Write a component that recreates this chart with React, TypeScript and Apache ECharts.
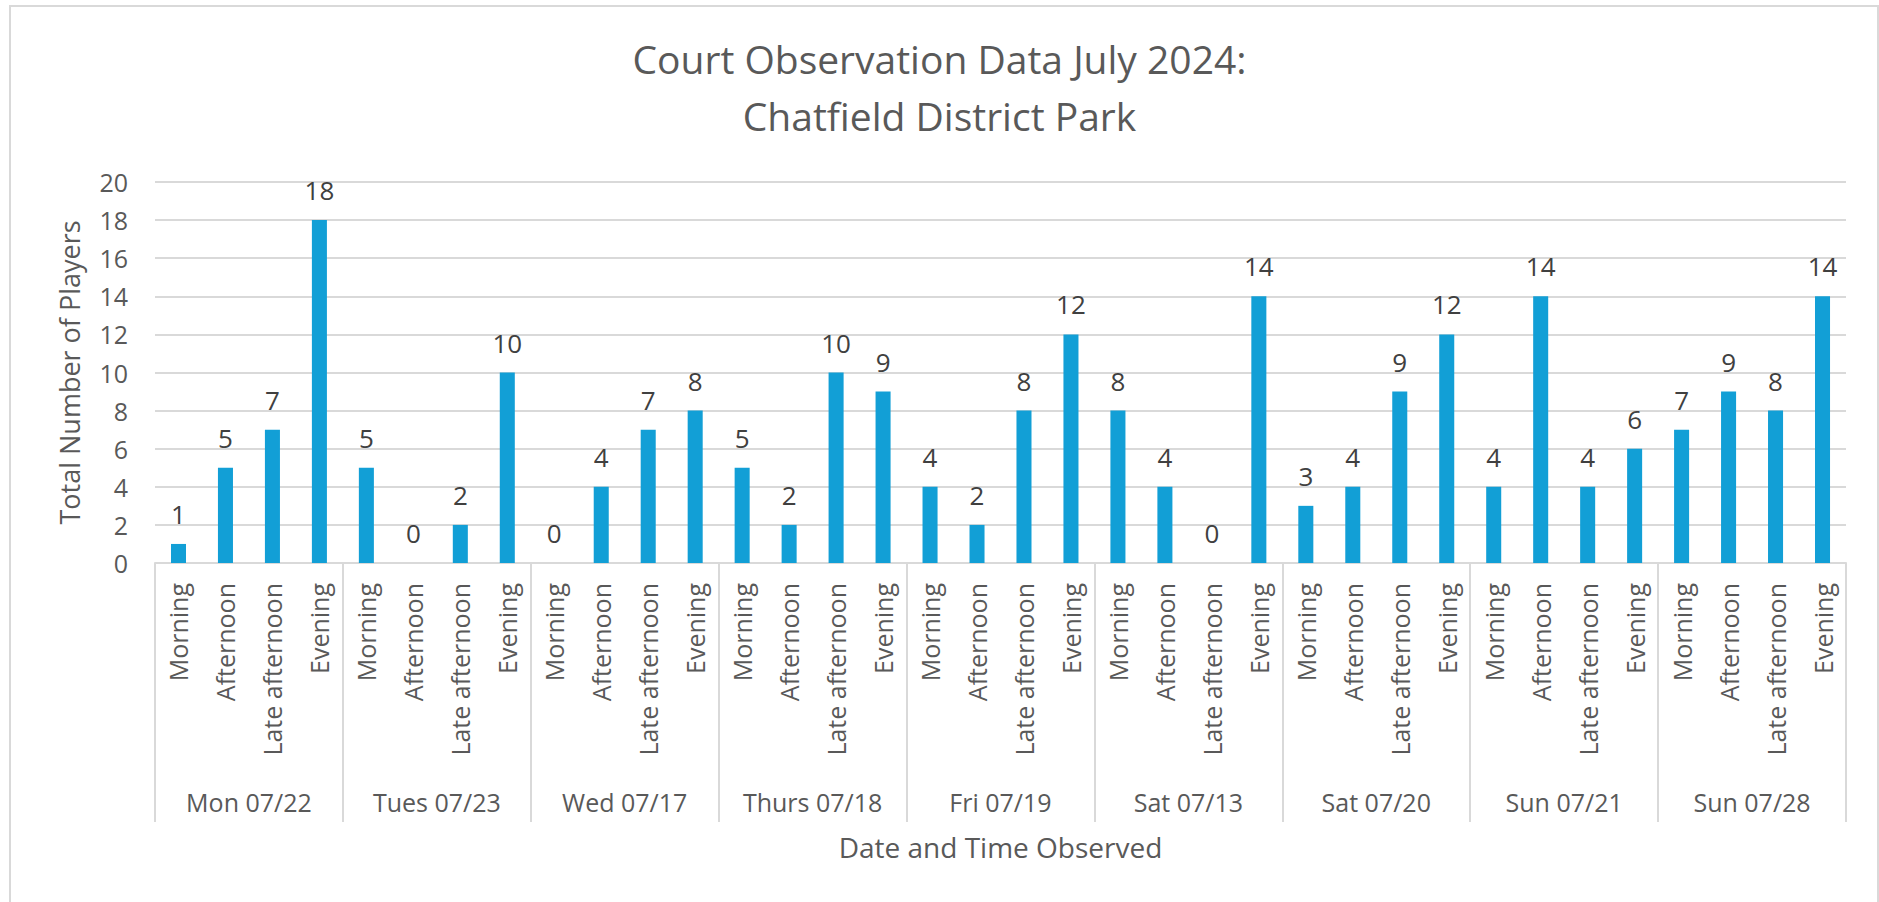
import React, { useEffect, useRef } from "react";
import * as echarts from "echarts";

const days = [
  "Mon 07/22",
  "Tues 07/23",
  "Wed 07/17",
  "Thurs 07/18",
  "Fri 07/19",
  "Sat 07/13",
  "Sat 07/20",
  "Sun 07/21",
  "Sun 07/28",
];
const slots = ["Morning", "Afternoon", "Late afternoon", "Evening"];

const monValues = [1, 5, 7, 18];
const tueValues = [5, 0, 2, 10];
const wedValues = [0, 4, 7, 8];
const thuValues = [5, 2, 10, 9];
const friValues = [4, 2, 8, 12];
const sat13Values = [8, 4, 0, 14];
const sat20Values = [3, 4, 9, 12];
const sun21Values = [4, 14, 4, 6];
const sun28Values = [7, 9, 8, 14];

const yTicks = [0, 20, 2]; // min, max, interval

const FONT = "'Open Sans', 'Noto Sans', sans-serif";
const TEXT = "#595959";
const GRID = "#d9d9d9";
const BAR = "#129fd6";

export default function App() {
  const ref = useRef<HTMLDivElement>(null);

  useEffect(() => {
    if (!ref.current) return;
    const chart = echarts.init(ref.current, undefined, { renderer: "svg" });

    const values = [
      ...monValues,
      ...tueValues,
      ...wedValues,
      ...thuValues,
      ...friValues,
      ...sat13Values,
      ...sat20Values,
      ...sun21Values,
      ...sun28Values,
    ];
    const slotLabels: string[] = [];
    days.forEach(() => slots.forEach((s) => slotLabels.push(s)));

    chart.setOption({
      animation: false,
      backgroundColor: "#ffffff",
      textStyle: { fontFamily: FONT },
      title: {
        text: "Court Observation Data July 2024:\nChatfield District Park",
        left: "center",
        top: 25,
        textStyle: {
          fontFamily: FONT,
          fontSize: 39,
          lineHeight: 57,
          fontWeight: "normal",
          color: TEXT,
        },
      },
      graphic: [
        {
          type: "rect",
          shape: { x: 10, y: 6, width: 1868, height: 910 },
          style: { fill: "none", stroke: GRID, lineWidth: 2 },
          silent: true,
        },
      ],
      grid: { left: 155, right: 33, top: 182, bottom: 339, containLabel: false },
      xAxis: [
        {
          type: "category",
          position: "bottom",
          data: slotLabels,
          axisLine: { show: true, lineStyle: { color: GRID, width: 2 } },
          axisTick: { show: false },
          axisLabel: {
            interval: 0,
            rotate: 90,
            margin: 20,
            fontSize: 25,
            color: TEXT,
            fontFamily: FONT,
          },
        },
        {
          type: "category",
          position: "bottom",
          data: days,
          axisLine: { show: false },
          axisTick: {
            show: true,
            interval: 0,
            length: 259,
            lineStyle: { color: GRID, width: 2 },
          },
          axisLabel: {
            interval: 0,
            margin: 226,
            fontSize: 25,
            color: TEXT,
            fontFamily: FONT,
          },
          name: "Date and Time Observed",
          nameLocation: "middle",
          nameGap: 270,
          nameTextStyle: { fontSize: 28, color: TEXT, fontFamily: FONT },
        },
      ],
      yAxis: {
        type: "value",
        min: yTicks[0],
        max: yTicks[1],
        interval: yTicks[2],
        axisLine: { show: false },
        axisTick: { show: false },
        splitLine: { lineStyle: { color: GRID, width: 2 } },
        axisLabel: { fontSize: 25, color: TEXT, margin: 27, fontFamily: FONT },
        name: "Total Number of Players",
        nameLocation: "middle",
        nameRotate: 90,
        nameGap: 72,
        nameTextStyle: { fontSize: 27, color: TEXT, fontFamily: FONT },
      },
      series: [
        {
          type: "bar",
          xAxisIndex: 0,
          yAxisIndex: 0,
          data: values,
          barWidth: "32%",
          itemStyle: { color: BAR },
          label: {
            show: true,
            position: "top",
            distance: 17,
            fontSize: 26,
            color: "#404040",
            fontFamily: FONT,
          },
        },
      ],
    });

    return () => chart.dispose();
  }, []);

  return (
    <div
      ref={ref}
      style={{ position: "fixed", left: 0, top: 0, width: 1879, height: 902 }}
    />
  );
}
